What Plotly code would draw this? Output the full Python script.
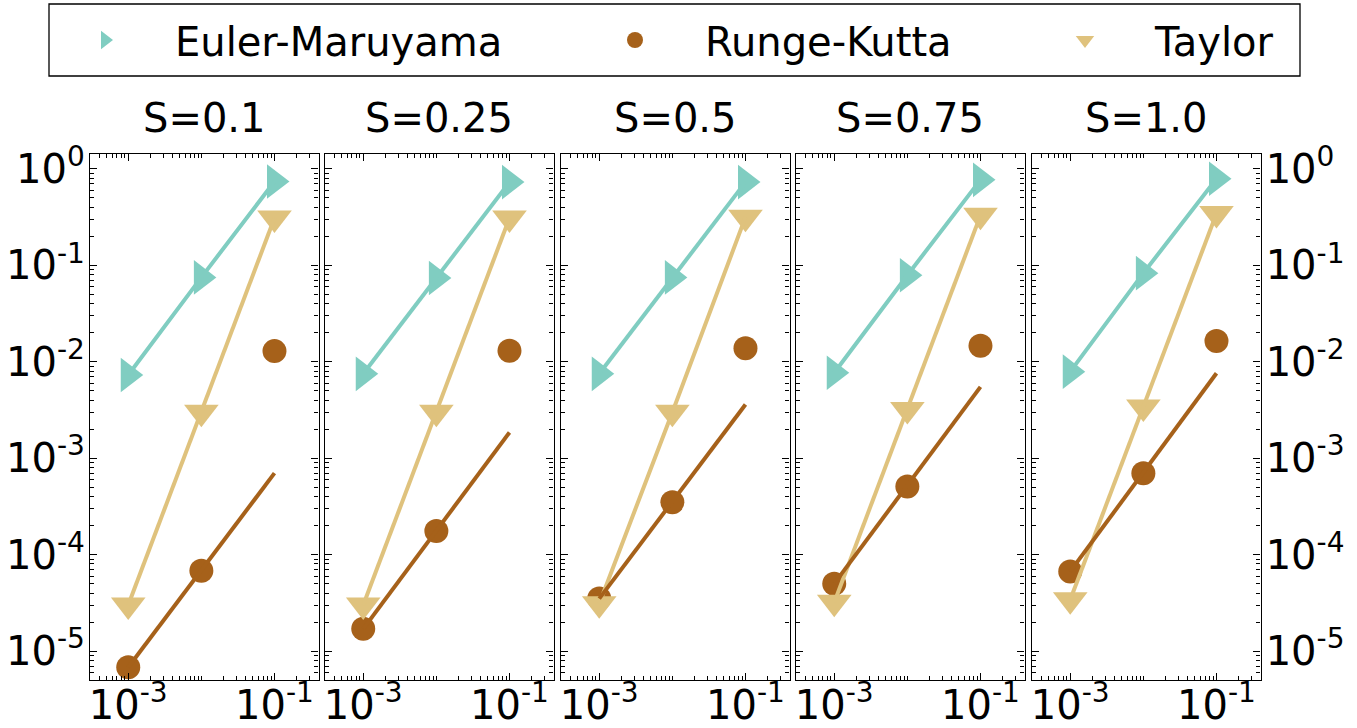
import plotly.graph_objects as go

# ---------------- data ----------------
step_sizes = [1e-3, 1e-2, 1e-1]
panel_titles = ["S=0.1", "S=0.25", "S=0.5", "S=0.75", "S=1.0"]

em_err = [
    [0.0073, 0.075, 0.74],
    [0.0075, 0.074, 0.73],
    [0.0075, 0.075, 0.73],
    [0.0077, 0.079, 0.77],
    [0.0079, 0.083, 0.79],
]
rk_err = [
    [6.8e-6, 6.8e-5, 0.0129],
    [1.7e-5, 1.76e-4, 0.0130],
    [3.5e-5, 3.5e-4, 0.0138],
    [5.0e-5, 5.1e-4, 0.0147],
    [6.7e-5, 7.0e-4, 0.0164],
]
rk_line = [
    [6.8e-6, 6.9e-5, 7.0e-4],
    [1.7e-5, 1.8e-4, 1.85e-3],
    [3.5e-5, 3.55e-4, 3.6e-3],
    [5.0e-5, 5.2e-4, 5.5e-3],
    [6.7e-5, 7.0e-4, 7.6e-3],
]
taylor_err = [
    [3.0e-5, 0.0030, 0.31],
    [3.0e-5, 0.0030, 0.31],
    [3.1e-5, 0.0030, 0.316],
    [3.2e-5, 0.0032, 0.33],
    [3.4e-5, 0.0034, 0.345],
]
y_tick_vals = [1e-5, 1e-4, 1e-3, 1e-2, 1e-1, 1e0]
y_tick_text = ["10<sup>-5</sup>", "10<sup>-4</sup>", "10<sup>-3</sup>",
               "10<sup>-2</sup>", "10<sup>-1</sup>", "10<sup>0</sup>"]
x_tick_vals = [1e-3, 1e-1]
x_tick_text = ["10<sup>-3</sup>", "10<sup>-1</sup>"]

# ---------------- styling ----------------
EM_C = "#80cdc1"
RK_C = "#a6611a"
TA_C = "#dfc27d"
W, H = 1357, 728
FONT = "DejaVu Sans"
panel_left = [90, 325, 561, 796, 1032]
panel_w = 228.5
y_top_px, y_bot_px = 153.5, 680

x_minor = [m * 10.0 ** k for k in range(-4, 0) for m in range(1, 10)
           if not (m == 1 and k in (-3, -1))]
y_minor = [m * 10.0 ** k for k in range(-6, 1) for m in range(2, 10)]

fig = go.Figure()

for i in range(5):
    xa = "x" if i == 0 else f"x{i+1}"
    ya = "y" if i == 0 else f"y{i+1}"
    first = (i == 0)
    # markers
    fig.add_trace(go.Scatter(
        x=step_sizes, y=rk_err[i], mode="markers", name="Runge-Kutta",
        marker=dict(symbol="circle", size=24, color=RK_C),
        legend="legend2", showlegend=first, xaxis=xa, yaxis=ya))
    fig.add_trace(go.Scatter(
        x=step_sizes, y=em_err[i], mode="markers", name="Euler-Maruyama",
        marker=dict(symbol="triangle-right", size=30, color=EM_C),
        legend="legend", showlegend=first, xaxis=xa, yaxis=ya))
    fig.add_trace(go.Scatter(
        x=step_sizes, y=taylor_err[i], mode="markers", name="Taylor",
        marker=dict(symbol="triangle-down", size=30, color=TA_C),
        legend="legend3", showlegend=first, xaxis=xa, yaxis=ya))
    # lines
    fig.add_trace(go.Scatter(
        x=step_sizes, y=em_err[i], mode="lines", line=dict(color=EM_C, width=4),
        showlegend=False, xaxis=xa, yaxis=ya, hoverinfo="skip"))
    fig.add_trace(go.Scatter(
        x=step_sizes, y=taylor_err[i], mode="lines", line=dict(color=TA_C, width=4),
        showlegend=False, xaxis=xa, yaxis=ya, hoverinfo="skip"))
    fig.add_trace(go.Scatter(
        x=step_sizes, y=rk_line[i], mode="lines", line=dict(color=RK_C, width=4),
        showlegend=False, xaxis=xa, yaxis=ya, hoverinfo="skip"))

    x0 = panel_left[i] / W
    x1 = (panel_left[i] + panel_w) / W
    xkey = "xaxis" if i == 0 else f"xaxis{i+1}"
    ykey = "yaxis" if i == 0 else f"yaxis{i+1}"
    fig.layout[xkey] = dict(
        type="log", domain=[x0, x1], anchor=ya, range=[-3.523, -0.398],
        tickvals=x_tick_vals, ticktext=x_tick_text, ticks="inside", ticklen=7,
        tickwidth=1.2, tickcolor="black", showline=True, linecolor="black",
        linewidth=1.3, mirror="allticks", showgrid=False, zeroline=False,
        automargin=False, ticklabelstandoff=-10,
        tickfont=dict(size=40, color="black", family=FONT),
        minor=dict(tickvals=x_minor, ticks="inside", ticklen=4, tickwidth=1,
                   tickcolor="black", showgrid=False))
    ydict = dict(
        type="log", domain=[1 - y_bot_px / H, 1 - y_top_px / H], anchor=xa,
        range=[-5.30, 0.16], tickvals=y_tick_vals, ticktext=y_tick_text,
        ticks="inside", ticklen=7, tickwidth=1.2, tickcolor="black",
        showline=True, linecolor="black", linewidth=1.3, mirror="allticks",
        showgrid=False, zeroline=False, automargin=False, ticklabelstandoff=-4,
        tickfont=dict(size=40, color="black", family=FONT),
        minor=dict(tickvals=y_minor, ticks="inside", ticklen=4, tickwidth=1,
                   tickcolor="black", showgrid=False),
        showticklabels=(i == 0 or i == 4), side=("right" if i == 4 else "left"))
    if i > 0:
        ydict["matches"] = "y"
    fig.layout[ykey] = ydict

    fig.add_annotation(text=panel_titles[i], xref=f"{xa} domain", yref=f"{ya} domain",
                       x=0.5, y=1, xanchor="center", yanchor="bottom", yshift=11,
                       showarrow=False, font=dict(size=40, color="black", family=FONT))

legend_common = dict(orientation="h", xanchor="left", yanchor="middle",
                     y=1 - 40 / H, bgcolor="rgba(0,0,0,0)", borderwidth=0,
                     itemwidth=130, font=dict(size=40, color="black", family=FONT))
fig.update_layout(
    width=W, height=H,
    margin=dict(l=0, r=0, t=0, b=0, autoexpand=False),
    paper_bgcolor="white", plot_bgcolor="white",
    font=dict(family=FONT, size=40, color="black"),
    showlegend=True,
    legend=dict(legend_common, x=35 / W),
    legend2=dict(legend_common, x=565 / W),
    legend3=dict(legend_common, x=1015 / W),
    shapes=[dict(type="rect", xref="paper", yref="paper",
                 x0=49 / W, x1=1300 / W, y0=1 - 76 / H, y1=1 - 4 / H,
                 line=dict(color="black", width=1.3), fillcolor="rgba(0,0,0,0)")],
)

fig.write_html("out.html", config={"displayModeBar": False},
               post_script="document.body.style.margin='0px';")
